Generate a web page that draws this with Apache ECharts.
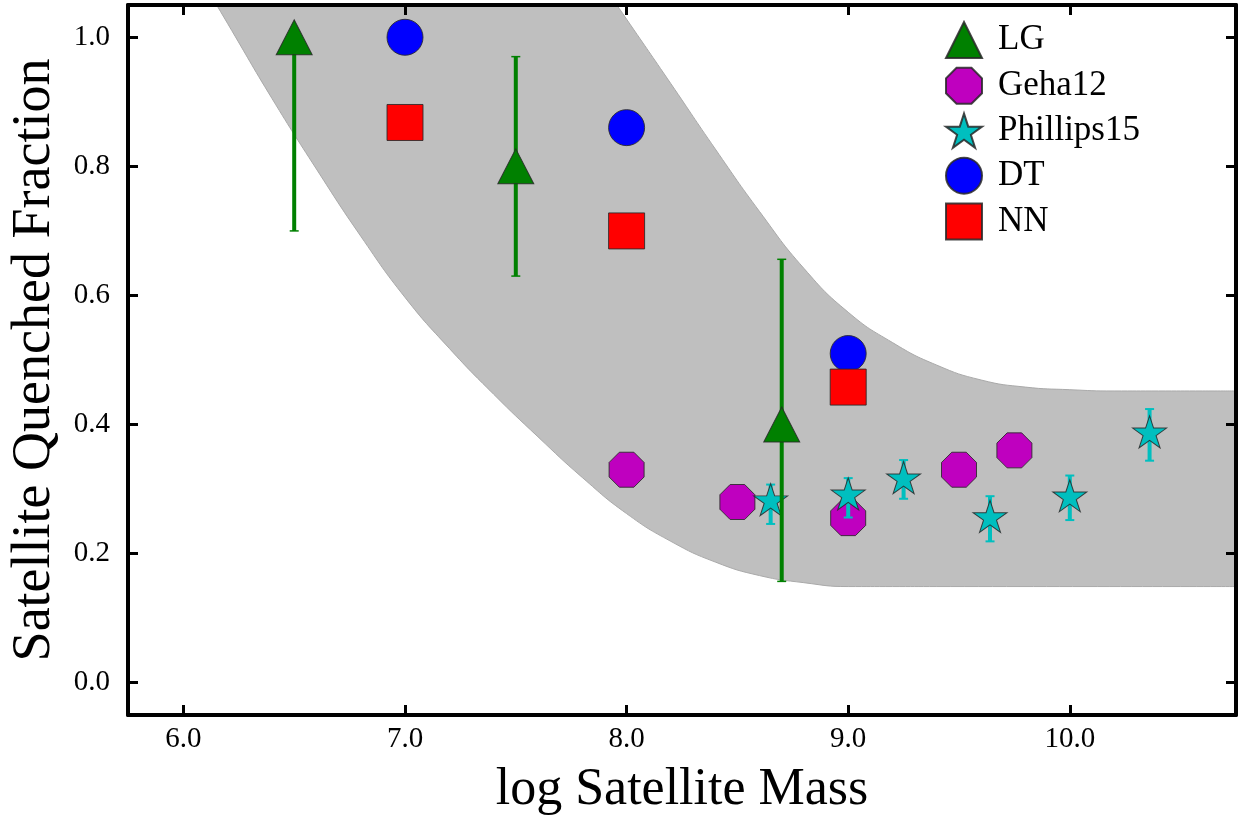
<!DOCTYPE html>
<html>
<head>
<meta charset="utf-8">
<script src="https://cdn.jsdelivr.net/npm/echarts@6/dist/echarts.min.js"></script>
<style>
html,body{margin:0;padding:0;background:#fff;}
#chart{width:1244px;height:821px;}
</style>
</head>
<body>
<div id="chart"></div>
<script>
// ---- data ----
const xTicks = [6, 7, 8, 9, 10];
const yTicks = [0, 0.2, 0.4, 0.6, 0.8, 1.0];

// shaded band boundaries (read along the edges of the grey band)
const bandUpperX = [5.75, 7.4, 7.6, 7.8, 8.0, 8.2, 8.4, 8.6, 8.8, 9.0, 9.2, 9.4, 9.6, 9.8, 10.0, 10.2, 10.4, 10.6, 10.75];
const bandUpperY = [1.328, 1.328, 1.228, 1.128, 1.028, 0.928, 0.827, 0.730, 0.642, 0.574, 0.527, 0.492, 0.469, 0.458, 0.454, 0.452, 0.452, 0.452, 0.452];
const bandLowerX = [5.75, 5.8, 6.0, 6.2, 6.4, 6.6, 6.8, 7.0, 7.2, 7.4, 7.6, 7.8, 8.0, 8.2, 8.4, 8.6, 8.8, 9.0, 9.2, 9.4, 10.75];
const bandLowerY = [1.282, 1.253, 1.137, 1.021, 0.905, 0.796, 0.692, 0.597, 0.518, 0.447, 0.381, 0.318, 0.262, 0.219, 0.187, 0.166, 0.155, 0.149, 0.149, 0.149, 0.149];

// LG (lower limits)
const lgX = [6.5, 7.5, 8.7];
const lgY = [1.0, 0.8, 0.4];
const lgLo = [0.70, 0.63, 0.157];
const lgHi = [1.0, 0.97, 0.656];

// Geha12
const gehaX = [8.0, 8.5, 9.0, 9.5, 9.75];
const gehaY = [0.33, 0.28, 0.255, 0.33, 0.36];

// Phillips15
const phX = [8.65, 9.0, 9.25, 9.64, 10.0, 10.36];
const phY = [0.281, 0.290, 0.315, 0.255, 0.287, 0.386];
const phLo = [0.246, 0.256, 0.285, 0.219, 0.252, 0.344];
const phHi = [0.307, 0.317, 0.345, 0.289, 0.321, 0.424];

// DT
const dtX = [7.0, 8.0, 9.0];
const dtY = [1.0, 0.86, 0.51];

// NN
const nnX = [7.0, 8.0, 9.0];
const nnY = [0.868, 0.70, 0.458];

// ---- helpers ----
const zip = (a, b) => a.map((v, i) => [v, b[i]]);
const zip3 = (a, b, c) => a.map((v, i) => [v, b[i], c[i]]);

const FONT = 'Liberation Serif';
const starPath = 'path://M0,-100 L-22.45,-30.9 L-95.11,-30.9 L-36.33,11.8 L-58.78,80.9 L0,38.2 L58.78,80.9 L36.33,11.8 L95.11,-30.9 L22.45,-30.9 Z';
const octPath = 'path://M38.27,-92.39 L92.39,-38.27 L92.39,38.27 L38.27,92.39 L-38.27,92.39 L-92.39,38.27 L-92.39,-38.27 L-38.27,-92.39 Z';
const edge = {borderColor: 'rgba(40,40,40,0.85)', borderWidth: 1};

function errRender(color, lw, capW, capLw) {
  return function (params, api) {
    const x = api.value(0);
    const p1 = api.coord([x, api.value(1)]);
    const p2 = api.coord([x, api.value(2)]);
    const st = {stroke: color, lineWidth: lw};
    const cs = {stroke: color, lineWidth: capLw};
    return {
      type: 'group',
      children: [
        {type: 'line', shape: {x1: p1[0], y1: p1[1], x2: p2[0], y2: p2[1]}, style: st},
        {type: 'line', shape: {x1: p1[0] - capW / 2, y1: p1[1], x2: p1[0] + capW / 2, y2: p1[1]}, style: cs},
        {type: 'line', shape: {x1: p2[0] - capW / 2, y1: p2[1], x2: p2[0] + capW / 2, y2: p2[1]}, style: cs}
      ]
    };
  };
}

const axisCommon = {
  type: 'value',
  z: 10,
  axisLine: {show: true, onZero: false, lineStyle: {color: '#000', width: 4}},
  splitLine: {show: false}
};

const chart = echarts.init(document.getElementById('chart'), null, {renderer: 'canvas'});
chart.setOption({
  animation: false,
  backgroundColor: '#fff',
  grid: {left: 128, right: 8, top: 5, bottom: 101, containLabel: false},
  legend: {
    data: ['LG', 'Geha12', 'Phillips15', 'DT', 'NN'],
    orient: 'vertical',
    left: 945,
    top: 21,
    padding: 0,
    itemWidth: 36,
    itemHeight: 36,
    itemGap: 7.8,
    selectedMode: false,
    textStyle: {fontFamily: FONT, fontSize: 35, lineHeight: 36, color: '#000', padding: [0, 0, 0, 11]}
  },
  xAxis: [
    Object.assign({}, axisCommon, {
      position: 'bottom', min: 5.75, max: 10.75,
      axisTick: {show: true, inside: true, length: 10, customValues: xTicks, lineStyle: {color: '#000', width: 3}},
      axisLabel: {show: true, customValues: xTicks, margin: 10, fontFamily: FONT, fontSize: 29, color: '#000',
        formatter: v => v.toFixed(1)},
      name: 'log Satellite Mass', nameLocation: 'middle', nameGap: 49,
      nameTextStyle: {fontFamily: FONT, fontSize: 52, color: '#000'}
    }),
    Object.assign({}, axisCommon, {
      position: 'top', min: 5.75, max: 10.75,
      axisTick: {show: true, inside: true, length: 10, customValues: xTicks, lineStyle: {color: '#000', width: 3}},
      axisLabel: {show: false}
    })
  ],
  yAxis: [
    Object.assign({}, axisCommon, {
      position: 'left', min: -0.05, max: 1.05,
      axisTick: {show: true, inside: true, length: 10, customValues: yTicks, lineStyle: {color: '#000', width: 3}},
      axisLabel: {show: true, customValues: yTicks, margin: 18, fontFamily: FONT, fontSize: 29, color: '#000',
        formatter: v => v.toFixed(1)},
      name: 'Satellite Quenched Fraction', nameLocation: 'middle', nameGap: 66, nameRotate: 90,
      nameTextStyle: {fontFamily: FONT, fontSize: 54, color: '#000'}
    }),
    Object.assign({}, axisCommon, {
      position: 'right', min: -0.05, max: 1.05,
      axisTick: {show: true, inside: true, length: 10, customValues: yTicks, lineStyle: {color: '#000', width: 3}},
      axisLabel: {show: false}
    })
  ],
  series: [
    {
      name: 'bandUpper', type: 'line', data: zip(bandUpperX, bandUpperY), smooth: 0.5, symbol: 'none',
      silent: true, z: 1, clip: true,
      lineStyle: {color: '#a9a9a9', width: 1},
      areaStyle: {color: '#bfbfbf', opacity: 1, origin: 'start'}
    },
    {
      name: 'bandLower', type: 'line', data: zip(bandLowerX, bandLowerY), smooth: 0.5, symbol: 'none',
      silent: true, z: 1, clip: true,
      lineStyle: {color: '#a9a9a9', width: 1},
      areaStyle: {color: '#ffffff', opacity: 1, origin: 'start'}
    },
    {
      name: 'Geha12', type: 'scatter', data: zip(gehaX, gehaY), symbol: octPath, symbolSize: 35, z: 2,
      itemStyle: Object.assign({color: '#bf00bf', opacity: 1}, edge)
    },
    {
      name: 'DT', type: 'scatter', data: zip(dtX, dtY), symbol: 'circle', symbolSize: 36, z: 2,
      itemStyle: Object.assign({color: '#0000ff', opacity: 1}, edge)
    },
    {
      name: 'NN', type: 'scatter', data: zip(nnX, nnY), symbol: 'rect', symbolSize: 36, z: 2,
      itemStyle: Object.assign({color: '#ff0000', opacity: 1}, edge)
    },
    {
      name: 'phErr', type: 'custom', data: zip3(phX, phLo, phHi), z: 3, silent: true,
      encode: {x: 0, y: [1, 2]},
      renderItem: errRender('#00bfbf', 4, 9, 2)
    },
    {
      name: 'Phillips15', type: 'scatter', data: zip(phX, phY), symbol: starPath, symbolSize: [34, 32],
      symbolOffset: [0, -1.7], z: 3,
      itemStyle: Object.assign({color: '#00bfbf', opacity: 1}, edge)
    },
    {
      name: 'lgErr', type: 'custom', data: zip3(lgX, lgLo, lgHi), z: 4, silent: true,
      encode: {x: 0, y: [1, 2]},
      renderItem: errRender('#008000', 4, 9, 1.5)
    },
    {
      name: 'LG', type: 'scatter', data: zip(lgX, lgY), symbol: 'triangle', symbolSize: [36, 35], z: 4,
      itemStyle: Object.assign({color: '#008000', opacity: 1}, edge)
    }
  ]
});
</script>
</body>
</html>
